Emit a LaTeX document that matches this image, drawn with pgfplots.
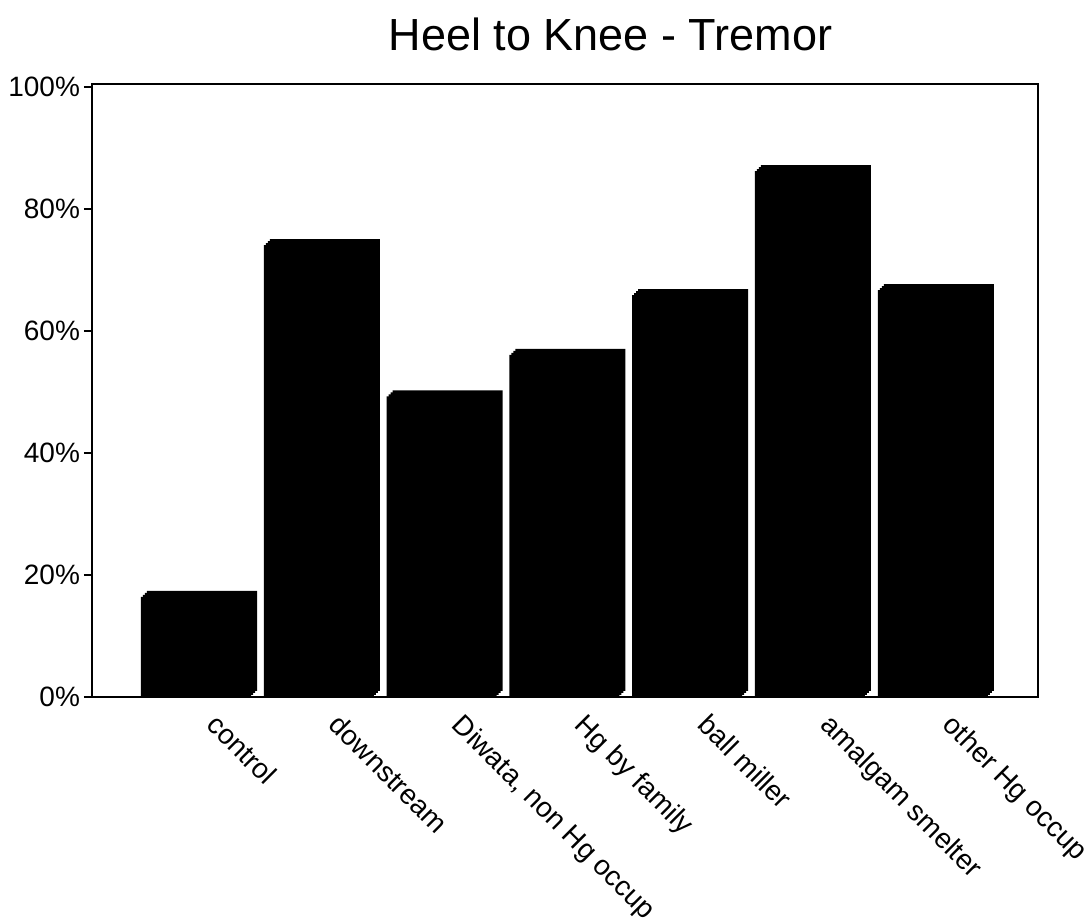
\documentclass[border=0pt]{standalone}
\usepackage{pgfplots}
\pgfplotsset{compat=1.18}
\usepackage{fontspec}
\setmainfont{Liberation Sans}

\pgfplotstableread{
x  v    name
0  16.4 control
1  74.1 downstream
2  49.3 {Diwata, non Hg occup}
3  56.1 {Hg by family}
4  65.9 {ball miller}
5  86.2 {amalgam smelter}
6  66.7 {other Hg occup}
}\datatable

\begin{document}
\begin{tikzpicture}
\useasboundingbox (-46pt,-112pt) rectangle (496pt,348.5pt);
\begin{axis}[
  at={(0,0)}, anchor=south west,
  scale only axis,
  width=473pt, height=306.5pt,
  xmin=-0.847, xmax=6.857,
  ymin=0, ymax=100.5,
  ytick={0,20,40,60,80,100},
  yticklabels={0\%,20\%,40\%,60\%,80\%,100\%},
  xtick={0,1,2,3,4,5,6},
  xticklabels={control,downstream,{Diwata, non Hg occup},{Hg by family},{ball miller},{amalgam smelter},{other Hg occup}},
  ytick pos=left,
  xtick pos=bottom,
  tick align=outside,
  major tick length=4pt,
  x tick style={draw=none},
  y tick style={line width=0.8pt, black},
  axis line style={line width=1.1pt, black},
  tick label style={font=\fontsize{14}{17}\selectfont},
  yticklabel style={xshift=1.5pt},
  xticklabel style={rotate=-45, anchor=north west, inner sep=0pt, xshift=10.8pt, yshift=5.8pt},
  title={Heel to Knee - Tremor},
  title style={at={(0.548,1)}, anchor=base, yshift=10.5pt, font=\fontsize{22.5}{27}\selectfont},
  clip=false,
]
\addplot[ybar, bar shift=0pt, bar width=0.896, fill=black, draw=none, xshift=3pt, yshift=3pt] table[x=x, y=v] {\datatable};
\addplot[ybar, bar shift=0pt, bar width=0.896, fill=black, draw=none, xshift=2pt, yshift=2pt] table[x=x, y=v] {\datatable};
\addplot[ybar, bar shift=0pt, bar width=0.896, fill=black, draw=none, xshift=1pt, yshift=1pt] table[x=x, y=v] {\datatable};
\addplot[ybar, bar shift=0pt, bar width=0.896, fill=black, draw=none] table[x=x, y=v] {\datatable};
\end{axis}
\end{tikzpicture}
\end{document}
